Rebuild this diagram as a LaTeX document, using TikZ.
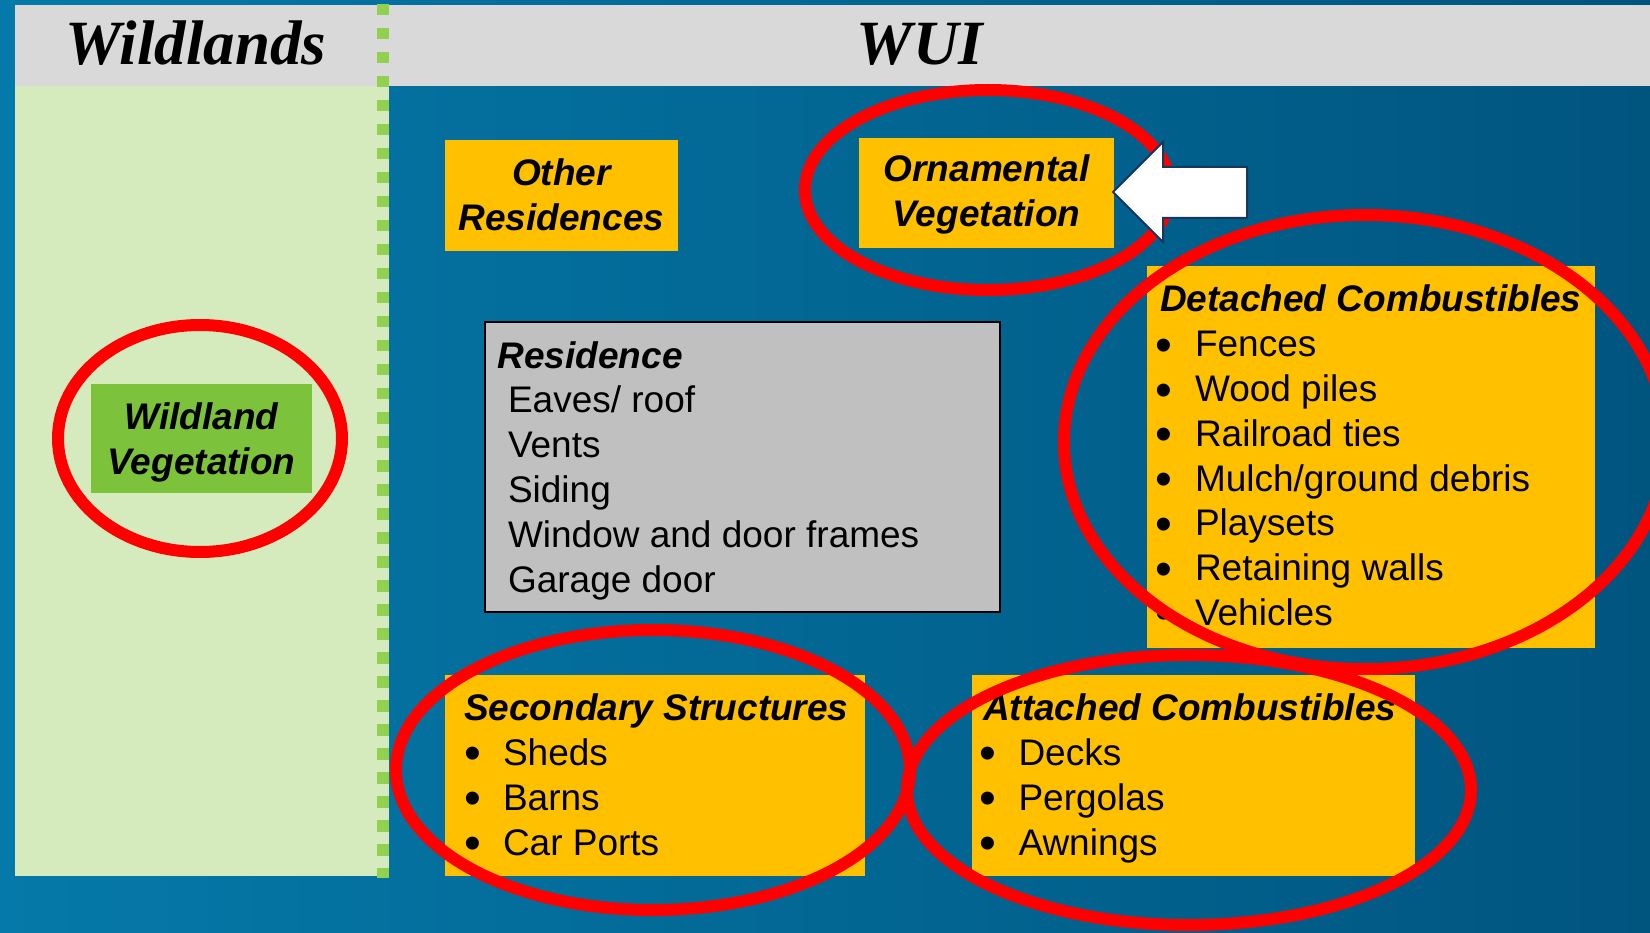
\documentclass[tikz,border=0pt]{standalone}
\usepackage{fontspec}
\setmainfont{Liberation Sans}
\newfontfamily\hdrfont{Liberation Serif}
\definecolor{bgleft}{HTML}{0579A9}
\definecolor{bgright}{HTML}{00557F}
\definecolor{hdrgrey}{HTML}{D9D9D9}
\definecolor{wildbg}{HTML}{D6EBBD}
\definecolor{dashgreen}{HTML}{92D050}
\definecolor{wildbox}{HTML}{7DC23B}
\definecolor{gold}{HTML}{FFC000}
\definecolor{resgrey}{HTML}{C0C0C0}
\definecolor{ringred}{HTML}{FF0000}
\definecolor{arrowline}{HTML}{17375E}
\begin{document}
\begin{tikzpicture}[x=1pt,y=-1pt,
  panel/.style={inner sep=0pt, outer sep=0pt, anchor=north west},
  ybox/.style={panel, fill=gold},
  lbl/.style={inner sep=0pt, outer sep=0pt, anchor=base west, font=\fontsize{37}{44}\selectfont},
  hlbl/.style={lbl, font=\fontsize{37}{44}\selectfont\bfseries\itshape},
  clbl/.style={hlbl, anchor=base},
  bul/.style={inner sep=0pt, outer sep=0pt, anchor=base, font=\fontsize{48}{50}\selectfont},
  hdr/.style={inner sep=0pt, outer sep=0pt, anchor=base, font=\hdrfont\fontsize{63}{70}\selectfont\bfseries\itshape},
  ring/.style={draw=ringred, line width=12pt},
  bigarrow/.style={fill=white, draw=arrowline, line width=2pt, line join=miter}
]
\useasboundingbox (0,0) rectangle (1650,933);
% background
\shade[left color=bgleft, right color=bgright] (0,0) rectangle (1650,933);
% header band and wildland panel
\node[panel, fill=hdrgrey, minimum width=1635pt, minimum height=81pt] (band) at (15,5) {};
\node[panel, fill=wildbg, minimum width=374pt, minimum height=790pt] (wild) at (15,86) {};
\draw[dashgreen, line width=12pt, dash pattern=on 11.5pt off 12.5pt] (383,4) -- (383,878);
% headings
\node[hdr] (hwild) at (196,65) {Wildlands};
\node[hdr] (hwui) at (920,65) {WUI};
% boxes
\node[panel, fill=wildbox, minimum width=221pt, minimum height=109pt] (wv) at (91,384) {};
\node[ybox, minimum width=233pt, minimum height=111pt] (oth) at (445,140) {};
\node[ybox, minimum width=255pt, minimum height=110pt] (orn) at (859,138) {};
\node[panel, fill=resgrey, draw=black, line width=2pt, minimum width=515pt, minimum height=290pt] (res) at (485,322) {};
\node[ybox, minimum width=448pt, minimum height=382pt] (det) at (1147,266) {};
\node[ybox, minimum width=420pt, minimum height=201pt] (sec) at (445,675) {};
\node[ybox, minimum width=443pt, minimum height=201pt] (att) at (972,675) {};
% centered labels
\node[clbl] (wv1) at (201.5,429) {Wildland};
\node[clbl] (wv2) at (201.5,474) {Vegetation};
\node[clbl] (oth1) at (561.5,186) {Other};
\node[clbl] (oth2) at (561.5,231) {Residences};
\node[clbl] (orn1) at (986.5,182) {Ornamental};
\node[clbl] (orn2) at (986.5,227) {Vegetation};
% residence
\node[hlbl] (resh) at (497.5,369) {Residence};
\foreach \t [count=\i] in {Eaves/ roof, Vents, Siding, Window and door frames, Garage door}
  \node[lbl] (res\i) at (508,{413+44.75*(\i-1)}) {\t};
% detached
\node[hlbl] (deth) at (1160,312) {Detached Combustibles};
\foreach \t [count=\i] in {Fences, Wood piles, Railroad ties, Mulch/ground debris, Playsets, Retaining walls, Vehicles}{
  \node[bul] (detb\i) at (1164,{361.5+44.7*(\i-1)}) {•};
  \node[lbl] (det\i) at (1195,{357+44.7*(\i-1)}) {\t};
}
% secondary
\node[hlbl] (sech) at (464,720) {Secondary Structures};
\foreach \t [count=\i] in {Sheds, Barns, Car Ports}{
  \node[bul] (secb\i) at (473,{769.5+45*(\i-1)}) {•};
  \node[lbl] (sec\i) at (503,{765+45*(\i-1)}) {\t};
}
% attached
\node[hlbl] (atth) at (983,720) {Attached Combustibles};
\foreach \t [count=\i] in {Decks, Pergolas, Awnings}{
  \node[bul] (attb\i) at (988,{769.5+45*(\i-1)}) {•};
  \node[lbl] (att\i) at (1018.5,{765+45*(\i-1)}) {\t};
}
% red highlight rings
\draw[ring] (200,438.5) ellipse [x radius=142, y radius=113.5];
\draw[ring] (988,190) ellipse [x radius=183, y radius=100];
\draw[ring] (1365,442) ellipse [x radius=301, y radius=227];
\draw[ring] (653,770) ellipse [x radius=257, y radius=140];
\draw[ring] (1189,790) ellipse [x radius=282, y radius=135];
% white arrow pointing to ornamental vegetation
\draw[bigarrow] (1113,192) -- (1163,142) -- (1163,167) -- (1247,167) -- (1247,218) -- (1163,218) -- (1163,242) -- cycle;
\end{tikzpicture}
\end{document}
